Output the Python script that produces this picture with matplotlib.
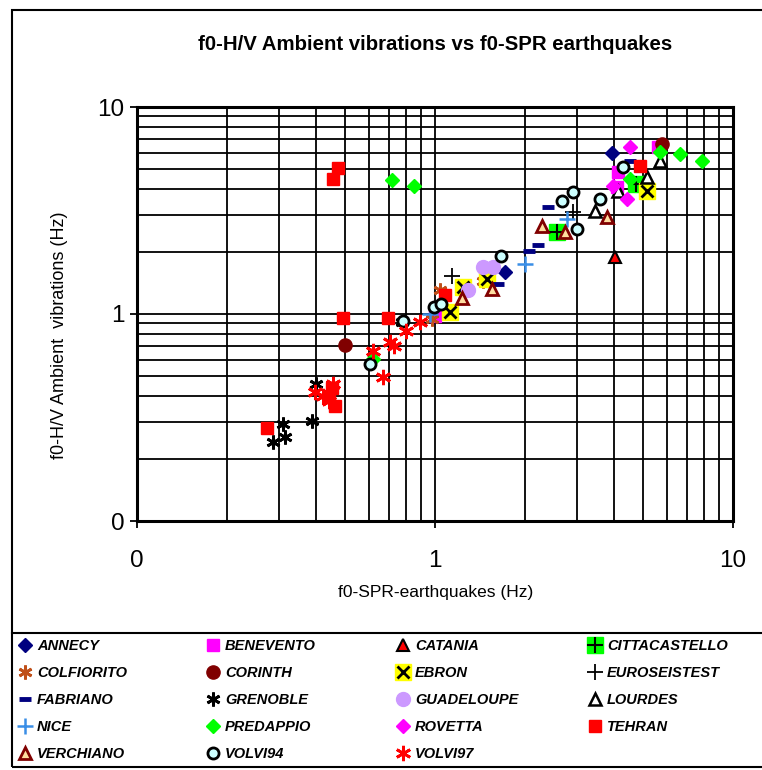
import matplotlib
matplotlib.use("Agg")
import matplotlib.pyplot as plt
from matplotlib.lines import Line2D
from matplotlib.patches import Rectangle
from matplotlib import font_manager
from matplotlib.ticker import LogLocator, FixedLocator, FixedFormatter, NullFormatter

# ---------------- data (f0-SPR earthquakes, f0-H/V ambient vibrations) ----------------
annecy_x = [3.92, 1.72]
annecy_y = [6.0, 1.59]
benevento_x = [5.6, 4.07, 4.1, 1.0]
benevento_y = [6.4, 4.09, 4.85, 0.98]
catania_x = [4.02]
catania_y = [1.88]
citta_x = [2.56, 4.72]
citta_y = [2.48, 4.25]
colfiorito_x = [1.04, 1.45, 0.98]
colfiorito_y = [1.30, 1.45, 0.95]
corinth_x = [0.50, 5.76]
corinth_y = [0.71, 6.62]
ebron_x = [5.13, 1.245, 1.12, 1.49]
ebron_y = [3.94, 1.35, 1.02, 1.48]
euro_x = [1.14, 2.91]
euro_y = [1.53, 3.1]
fabriano_x = [2.40, 2.22, 2.06, 1.63, 4.5]
fabriano_y = [3.30, 2.16, 2.02, 1.40, 5.5]
grenoble_x = [0.40, 0.386, 0.31, 0.287, 0.314, 0.773]
grenoble_y = [0.459, 0.305, 0.294, 0.24, 0.254, 0.91]
guadeloupe_x = [1.45, 1.57, 1.29]
guadeloupe_y = [1.68, 1.68, 1.30]
lourdes_x = [3.44, 5.13, 5.7, 4.12]
lourdes_y = [3.15, 4.57, 5.5, 3.94]
nice_x = [2.0, 2.77, 0.96]
nice_y = [1.74, 2.88, 1.0]
predappio_x = [5.69, 6.64, 7.85, 4.51, 0.716, 0.852, 0.621]
predappio_y = [6.06, 5.93, 5.5, 4.49, 4.46, 4.17, 0.606]
rovetta_x = [4.52, 4.4, 3.96]
rovetta_y = [6.4, 3.6, 4.15]
tehran_x = [4.88, 0.474, 0.456, 0.493, 0.697, 1.08, 0.274, 0.46, 0.44, 0.45]
tehran_y = [5.2, 5.06, 4.49, 0.953, 0.953, 1.23, 0.28, 0.36, 0.40, 0.44]
verchiano_x = [2.28, 2.73, 3.77, 1.55, 1.23]
verchiano_y = [2.67, 2.48, 2.93, 1.32, 1.20]
volvi94_x = [2.66, 2.91, 3.58, 4.28, 2.99, 1.67, 0.99, 1.05, 0.78, 0.605]
volvi94_y = [3.53, 3.87, 3.59, 5.11, 2.57, 1.91, 1.08, 1.12, 0.93, 0.573]
volvi97_x = [0.80, 0.89, 0.706, 0.73, 0.62, 0.67, 0.396, 0.42, 0.456, 0.44]
volvi97_y = [0.83, 0.91, 0.73, 0.70, 0.665, 0.494, 0.418, 0.40, 0.459, 0.38]

tick_values = [0.1, 1, 10]
tick_labels = ["0", "1", "10"]
title_text = "f0-H/V Ambient vibrations vs f0-SPR earthquakes"
xlabel_text = "f0-SPR-earthquakes (Hz)"
ylabel_text = "f0-H/V Ambient  vibrations (Hz)"

# ---------------- fonts ----------------
avail = {f.name for f in font_manager.fontManager.ttflist}
sans = "Liberation Sans" if "Liberation Sans" in avail else "DejaVu Sans"

W, H = 762, 770
fig = plt.figure(figsize=(W / 100, H / 100), dpi=100)
fig.patch.set_facecolor("white")

def fx(px):
    return px / W

def fy(py):
    return 1 - py / H

ax = fig.add_axes([fx(137), fy(521), fx(733) - fx(137), fy(107) - fy(521)])
ax.set_xscale("log")
ax.set_yscale("log")
ax.set_xlim(0.1, 10)
ax.set_ylim(0.1, 10)

ax.xaxis.set_major_locator(FixedLocator(tick_values))
ax.yaxis.set_major_locator(FixedLocator(tick_values))
ax.xaxis.set_major_formatter(FixedFormatter(tick_labels))
ax.yaxis.set_major_formatter(FixedFormatter(tick_labels))
ax.xaxis.set_minor_locator(LogLocator(base=10, subs=range(2, 10)))
ax.yaxis.set_minor_locator(LogLocator(base=10, subs=range(2, 10)))
ax.xaxis.set_minor_formatter(NullFormatter())
ax.yaxis.set_minor_formatter(NullFormatter())
ax.grid(True, which="both", color="black", linewidth=1.3)
ax.set_axisbelow(True)
ax.tick_params(which="major", direction="out", length=5, width=1.3, colors="black",
               labelsize=17.5)
ax.tick_params(axis="x", which="major", pad=16)
ax.tick_params(axis="y", which="major", pad=4)
ax.tick_params(which="minor", length=0)
for lab in ax.get_xticklabels() + ax.get_yticklabels():
    lab.set_family(sans)
for s in ax.spines.values():
    s.set_linewidth(2.2)
    s.set_color("black")

series = []

def add(x, y, label, handle_parts):
    for kw in handle_parts:
        ax.plot(x, y, linestyle="none", **kw)
    hs = tuple(Line2D([], [], linestyle="none", **kw) for kw in handle_parts)
    series.append((hs if len(hs) > 1 else hs[0], label))

add(annecy_x, annecy_y, "ANNECY",
    [dict(marker="D", ms=7, mfc="#000080", mec="#000080")])
add(benevento_x, benevento_y, "BENEVENTO",
    [dict(marker="s", ms=9, mfc="#FF00FF", mec="#FF00FF")])
add(catania_x, catania_y, "CATANIA",
    [dict(marker="^", ms=8.5, mfc="#FF0000", mec="black", mew=1.5)])
add(citta_x, citta_y, "CITTACASTELLO",
    [dict(marker="s", ms=12, mfc="#00FF00", mec="#00FF00"),
     dict(marker="+", ms=11, mec="black", mew=1.5)])
add(colfiorito_x, colfiorito_y, "COLFIORITO",
    [dict(marker=(6, 2, 0), ms=10, mec="#C0501A", mew=2)])
add(corinth_x, corinth_y, "CORINTH",
    [dict(marker="o", ms=9.5, mfc="#800000", mec="#800000")])
add(ebron_x, ebron_y, "EBRON",
    [dict(marker="s", ms=12, mfc="#FFFF00", mec="#FFFF00"),
     dict(marker="x", ms=8, mec="black", mew=2)])
add(euro_x, euro_y, "EUROSEISTEST",
    [dict(marker="+", ms=12, mec="black", mew=1.3)])
add(fabriano_x, fabriano_y, "FABRIANO",
    [dict(marker="_", ms=8, mec="#000080", mew=3.5)])
add(grenoble_x, grenoble_y, "GRENOBLE",
    [dict(marker=(6, 2, 0), ms=10, mec="black", mew=2)])
add(guadeloupe_x, guadeloupe_y, "GUADELOUPE",
    [dict(marker="o", ms=10, mfc="#CC99FF", mec="#CC99FF")])
add(lourdes_x, lourdes_y, "LOURDES",
    [dict(marker="^", ms=8.5, mfc="white", mec="black", mew=1.8)])
add(nice_x, nice_y, "NICE",
    [dict(marker="+", ms=12, mec="#3A8EE6", mew=1.8)])
add(predappio_x, predappio_y, "PREDAPPIO",
    [dict(marker="D", ms=7.5, mfc="#00FF00", mec="#00FF00")])
add(rovetta_x, rovetta_y, "ROVETTA",
    [dict(marker="D", ms=7.5, mfc="#FF00FF", mec="#FF00FF")])
add(tehran_x, tehran_y, "TEHRAN",
    [dict(marker="s", ms=9, mfc="#FF0000", mec="#FF0000")])
add(verchiano_x, verchiano_y, "VERCHIANO",
    [dict(marker="^", ms=9, mfc="#FFDDA0", mec="#800000", mew=2)])
add(volvi94_x, volvi94_y, "VOLVI94",
    [dict(marker="o", ms=8, mfc="#CCFFFF", mec="black", mew=2)])
add(volvi97_x, volvi97_y, "VOLVI97",
    [dict(marker=(6, 2, 0), ms=11, mec="#FF0000", mew=2)])

# ---------------- texts ----------------
fig.text(fx(435), fy(44), title_text, ha="center", va="center",
         fontsize=14.7, fontweight="bold", family=sans)
fig.text(fx(436), fy(592), xlabel_text, ha="center", va="center",
         fontsize=12.5, family=sans)
fig.text(fx(60), fy(335), ylabel_text, ha="center", va="center",
         rotation=90, fontsize=13, family=sans)

# ---------------- frames ----------------
fig.add_artist(Rectangle((fx(12), fy(767)), fx(766) - fx(12), fy(10) - fy(767),
                         transform=fig.transFigure, fill=False, edgecolor="black",
                         linewidth=1.5))
fig.add_artist(Line2D([fx(12), fx(766)], [fy(633), fy(633)],
                      transform=fig.transFigure, color="black", linewidth=1.5))

# ---------------- legend (row-wise, 4 columns) ----------------
col_x = [18, 206, 396, 588]
for c in range(4):
    items = series[c::4]
    fig.legend([h for h, _ in items], [l for _, l in items],
               loc="upper left", bbox_to_anchor=(fx(col_x[c]), fy(639)),
               bbox_transform=fig.transFigure, frameon=False,
               borderpad=0, borderaxespad=0, handlelength=1.0,
               handletextpad=0.3, labelspacing=0.9,
               prop=dict(family=sans, weight="bold", style="italic", size=10.5))

fig.savefig("out.png", dpi=100, facecolor="white")
